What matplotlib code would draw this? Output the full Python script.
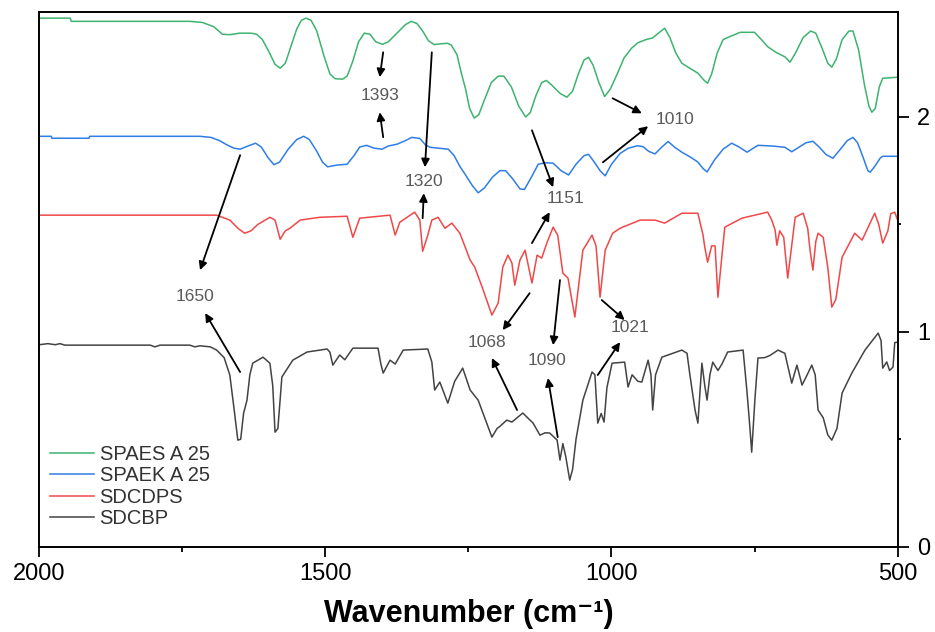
import matplotlib
matplotlib.use("Agg")
import matplotlib.pyplot as plt
from matplotlib.ticker import MultipleLocator

plt.rcParams['font.family'] = ['Liberation Sans', 'DejaVu Sans']

# SPAES A 25 (green, top)
spaes_wn = [2000, 1946, 1944, 1737, 1715, 1695, 1680, 1667, 1650, 1630, 1620, 1610, 1598,
            1588, 1579, 1570, 1560, 1550, 1542, 1534, 1525, 1515, 1502, 1492, 1483, 1470,
            1462, 1452, 1442, 1432, 1422, 1412, 1400, 1390, 1375, 1360, 1350, 1340, 1330,
            1320, 1310, 1300, 1287, 1280, 1270, 1262, 1255, 1248, 1240, 1232, 1222, 1210,
            1198, 1188, 1175, 1162, 1150, 1142, 1132, 1122, 1114, 1105, 1090, 1078, 1068,
            1058, 1048, 1040, 1032, 1022, 1012, 1002, 990, 978, 965, 954, 940, 928, 918,
            907, 898, 888, 877, 862, 849, 838, 832, 825, 815, 805, 795, 775, 750, 738, 727,
            712, 697, 688, 678, 665, 652, 643, 632, 622, 615, 607, 597, 585, 578, 568, 558,
            550, 545, 539, 532, 526, 500]
spaes_ab = [2.46, 2.46, 2.445, 2.445, 2.44, 2.42, 2.385, 2.383, 2.39, 2.39, 2.385, 2.36, 2.30,
            2.245, 2.227, 2.25, 2.33, 2.41, 2.45, 2.46, 2.45, 2.40, 2.28, 2.20, 2.178, 2.176,
            2.19, 2.26, 2.35, 2.39, 2.385, 2.35, 2.338, 2.35, 2.39, 2.43, 2.445, 2.435, 2.40,
            2.355, 2.337, 2.34, 2.343, 2.335, 2.29, 2.20, 2.13, 2.04, 1.995, 2.01, 2.08, 2.16,
            2.19, 2.19, 2.14, 2.05, 2.00, 2.02, 2.10, 2.16, 2.17, 2.15, 2.11, 2.092, 2.12,
            2.20, 2.265, 2.278, 2.24, 2.16, 2.095, 2.13, 2.20, 2.275, 2.32, 2.345, 2.36, 2.368,
            2.39, 2.413, 2.37, 2.30, 2.25, 2.225, 2.204, 2.17, 2.157, 2.20, 2.30, 2.36, 2.372,
            2.394, 2.394, 2.36, 2.327, 2.30, 2.28, 2.255, 2.30, 2.37, 2.40, 2.39, 2.32, 2.25,
            2.232, 2.27, 2.36, 2.40, 2.40, 2.31, 2.15, 2.05, 2.022, 2.04, 2.14, 2.18, 2.185]

# SPAEK A 25 (blue)
spaek_wn = [2000, 1979, 1978, 1913, 1912, 1719, 1700, 1685, 1672, 1660, 1649, 1635, 1622,
            1612, 1600, 1590, 1580, 1565, 1550, 1538, 1528, 1515, 1505, 1496, 1480, 1462,
            1450, 1440, 1428, 1415, 1401, 1390, 1375, 1360, 1349, 1335, 1325, 1317, 1300,
            1285, 1275, 1265, 1255, 1243, 1233, 1222, 1208, 1195, 1185, 1172, 1160, 1152,
            1140, 1128, 1116, 1102, 1088, 1075, 1062, 1048, 1040, 1030, 1020, 1011, 1000,
            985, 971, 955, 945, 935, 924, 912, 901, 890, 877, 860, 849, 840, 833, 820, 805,
            790, 777, 763, 752, 744, 720, 697, 685, 672, 660, 648, 637, 625, 613, 600, 588,
            578, 570, 560, 552, 548, 540, 530, 526, 500]
spaek_ab = [1.91, 1.91, 1.901, 1.901, 1.91, 1.91, 1.905, 1.89, 1.87, 1.855, 1.850, 1.865, 1.878,
            1.86, 1.81, 1.778, 1.79, 1.85, 1.895, 1.91, 1.895, 1.84, 1.79, 1.768, 1.776, 1.780,
            1.82, 1.86, 1.868, 1.855, 1.850, 1.865, 1.873, 1.89, 1.905, 1.900, 1.87, 1.859,
            1.854, 1.850, 1.82, 1.77, 1.73, 1.68, 1.647, 1.67, 1.72, 1.75, 1.75, 1.71, 1.665,
            1.663, 1.72, 1.78, 1.787, 1.785, 1.75, 1.73, 1.78, 1.82, 1.826, 1.79, 1.75, 1.726,
            1.78, 1.83, 1.854, 1.866, 1.862, 1.84, 1.828, 1.86, 1.886, 1.86, 1.836, 1.81, 1.79,
            1.76, 1.744, 1.80, 1.85, 1.878, 1.86, 1.836, 1.855, 1.868, 1.865, 1.859, 1.838,
            1.86, 1.88, 1.887, 1.86, 1.825, 1.808, 1.85, 1.89, 1.905, 1.88, 1.81, 1.75, 1.743,
            1.77, 1.81, 1.817, 1.817]

# SDCDPS (red)
sdcdps_wn = [2000, 1690, 1667, 1652, 1641, 1630, 1618, 1597, 1588, 1579, 1570, 1562, 1544,
             1510, 1462, 1452, 1440, 1387, 1378, 1370, 1344, 1335, 1330, 1321, 1314, 1303,
             1291, 1279, 1265, 1247, 1239, 1226, 1209, 1198, 1190, 1181, 1174, 1169, 1160,
             1151, 1139, 1130, 1122, 1113, 1102, 1094, 1085, 1076, 1064, 1050, 1034, 1027,
             1020, 1011, 998, 985, 963, 950, 924, 907, 877, 849, 840, 837, 832, 825, 819,
             814, 809, 802, 772, 727, 720, 714, 711, 706, 699, 692, 679, 665, 657, 653,
             648, 643, 639, 630, 622, 615, 608, 597, 575, 562, 540, 533, 526, 517, 512,
             505, 500]
sdcdps_ab = [1.543, 1.543, 1.52, 1.48, 1.459, 1.47, 1.50, 1.533, 1.52, 1.431, 1.47, 1.482,
             1.520, 1.533, 1.538, 1.440, 1.529, 1.543, 1.450, 1.510, 1.557, 1.52, 1.375, 1.45,
             1.520, 1.533, 1.482, 1.506, 1.459, 1.334, 1.301, 1.208, 1.078, 1.134, 1.301,
             1.357, 1.32, 1.217, 1.334, 1.380, 1.227, 1.357, 1.343, 1.413, 1.487, 1.45, 1.273,
             1.25, 1.069, 1.380, 1.450, 1.40, 1.161, 1.380, 1.459, 1.482, 1.506, 1.520, 1.52,
             1.506, 1.552, 1.552, 1.45, 1.394, 1.324, 1.40, 1.40, 1.161, 1.30, 1.487, 1.529,
             1.557, 1.52, 1.473, 1.403, 1.47, 1.44, 1.25, 1.533, 1.552, 1.48, 1.38, 1.287,
             1.42, 1.459, 1.44, 1.30, 1.115, 1.15, 1.347, 1.459, 1.427, 1.552, 1.50, 1.413,
             1.47, 1.55, 1.557, 1.52]

# SDCBP (black, bottom)
sdcbp_wn = [2000, 1985, 1972, 1964, 1955, 1806, 1798, 1789, 1737, 1728, 1719, 1701, 1690,
            1677, 1667, 1660, 1653, 1648, 1643, 1637, 1632, 1627, 1609, 1597, 1592, 1588,
            1583, 1576, 1557, 1532, 1497, 1492, 1487, 1475, 1466, 1452, 1408, 1403, 1399,
            1387, 1378, 1364, 1321, 1314, 1309, 1300, 1286, 1274, 1260, 1247, 1233, 1209,
            1200, 1195, 1183, 1174, 1165, 1155, 1137, 1125, 1116, 1108, 1095, 1090, 1085,
            1080, 1073, 1068, 1062, 1050, 1034, 1029, 1024, 1018, 1013, 1008, 999, 977,
            971, 964, 954, 947, 936, 931, 928, 923, 912, 877, 868, 863, 854, 849, 842, 837,
            833, 828, 823, 814, 807, 797, 770, 763, 758, 755, 749, 744, 732, 723, 709, 697,
            685, 676, 667, 658, 650, 644, 639, 630, 622, 615, 606, 597, 580, 557, 534, 529,
            526, 519, 514, 508, 505, 500]
sdcbp_ab = [0.94, 0.945, 0.94, 0.945, 0.938, 0.938, 0.93, 0.938, 0.938, 0.93, 0.935, 0.93,
            0.915, 0.88, 0.799, 0.65, 0.496, 0.50, 0.62, 0.682, 0.80, 0.854, 0.882, 0.854,
            0.75, 0.533, 0.55, 0.790, 0.868, 0.906, 0.920, 0.905, 0.845, 0.892, 0.87, 0.924,
            0.924, 0.85, 0.808, 0.868, 0.85, 0.915, 0.920, 0.86, 0.729, 0.766, 0.668, 0.77,
            0.831, 0.729, 0.682, 0.510, 0.55, 0.56, 0.589, 0.58, 0.60, 0.622, 0.575, 0.519,
            0.53, 0.529, 0.496, 0.403, 0.48, 0.42, 0.31, 0.36, 0.50, 0.682, 0.813, 0.80,
            0.575, 0.62, 0.58, 0.74, 0.854, 0.859, 0.743, 0.80, 0.77, 0.766, 0.868, 0.80,
            0.636, 0.80, 0.882, 0.915, 0.90, 0.80, 0.636, 0.575, 0.854, 0.75, 0.682, 0.80,
            0.859, 0.82, 0.85, 0.906, 0.915, 0.715, 0.55, 0.440, 0.70, 0.878, 0.88, 0.89,
            0.915, 0.90, 0.761, 0.845, 0.752, 0.80, 0.845, 0.80, 0.636, 0.60, 0.52, 0.496,
            0.55, 0.715, 0.808, 0.915, 0.994, 0.96, 0.831, 0.86, 0.82, 0.836, 0.95, 0.952]

series = [
    ("SPAES A 25", spaes_wn, spaes_ab, "#3db36f"),
    ("SPAEK A 25", spaek_wn, spaek_ab, "#2f7de6"),
    ("SDCDPS", sdcdps_wn, sdcdps_ab, "#f04848"),
    ("SDCBP", sdcbp_wn, sdcbp_ab, "#434343"),
]

# peak labels: text (x, y) and arrows (tail -> head)
labels = ["1650", "1393", "1320", "1010", "1151", "1068", "1090", "1021"]
label_pos = [(1728, 1.166), (1405, 2.101), (1328, 1.701), (889, 1.989),
             (1081, 1.622), (1218, 0.948), (1113, 0.868), (968, 1.022)]
arrows = [
    [((1649, 1.822), (1719, 1.287)), ((1649, 0.813), (1710, 1.087))],
    [((1399, 2.301), (1405, 2.185)), ((1399, 1.906), (1405, 2.022))],
    [((1314, 2.301), (1326, 1.766)), ((1330, 1.529), (1328, 1.645))],
    [((998, 2.087), (947, 2.017)), ((1015, 1.789), (936, 1.957))],
    [((1139, 1.938), (1102, 1.673)), ((1139, 1.413), (1108, 1.557))],
    [((1143, 1.180), (1190, 1.008)), ((1165, 0.636), (1209, 0.878))],
    [((1090, 1.241), (1102, 0.938)), ((1094, 0.510), (1111, 0.785))],
    [((1017, 1.148), (977, 1.055)), ((1024, 0.799), (985, 0.952))],
]

fig = plt.figure(figsize=(9.35, 6.32), dpi=100)
ax = fig.add_axes([0.042, 0.135, 0.918, 0.8465])

for name, wn, ab, col in series:
    ax.plot(wn, ab, color=col, lw=1.1, label=name)

for lab, (tx, ty), arr in zip(labels, label_pos, arrows):
    ax.text(tx, ty, lab, ha='center', va='center', fontsize=12.5, color='#5a5a5a')
    for tail, head in arr:
        ax.annotate('', xy=head, xytext=tail,
                    arrowprops=dict(arrowstyle='-|>', color='black', lw=1.3,
                                    mutation_scale=12, shrinkA=0, shrinkB=0))

ax.set_xlim(2000, 500)
ax.set_ylim(0, 2.49)
ax.xaxis.set_major_locator(MultipleLocator(500))
ax.xaxis.set_minor_locator(MultipleLocator(250))
ax.yaxis.set_major_locator(MultipleLocator(1))
ax.yaxis.set_minor_locator(MultipleLocator(0.5))
ax.yaxis.tick_right()
ax.tick_params(axis='x', which='major', direction='out', length=7, width=1.3,
               labelsize=17, pad=5)
ax.tick_params(axis='x', which='minor', direction='out', length=3.5, width=1.3)
ax.tick_params(axis='y', which='major', direction='out', length=8, width=1.3,
               labelsize=17, pad=6)
ax.tick_params(axis='y', which='minor', direction='out', length=2.5, width=1.3)
for sp in ax.spines.values():
    sp.set_linewidth(1.4)

ax.set_xlabel('Wavenumber (cm\u207b\u00b9)', fontsize=22, fontweight='bold', labelpad=10)

leg = ax.legend(loc='upper left', bbox_to_anchor=(0.012, 0.19), frameon=False,
                fontsize=14.5, handlelength=2.2, handletextpad=0.28, labelspacing=0.12,
                borderpad=0, borderaxespad=0)
for t in leg.get_texts():
    t.set_color('#333333')

fig.savefig('out.png', dpi=100)
